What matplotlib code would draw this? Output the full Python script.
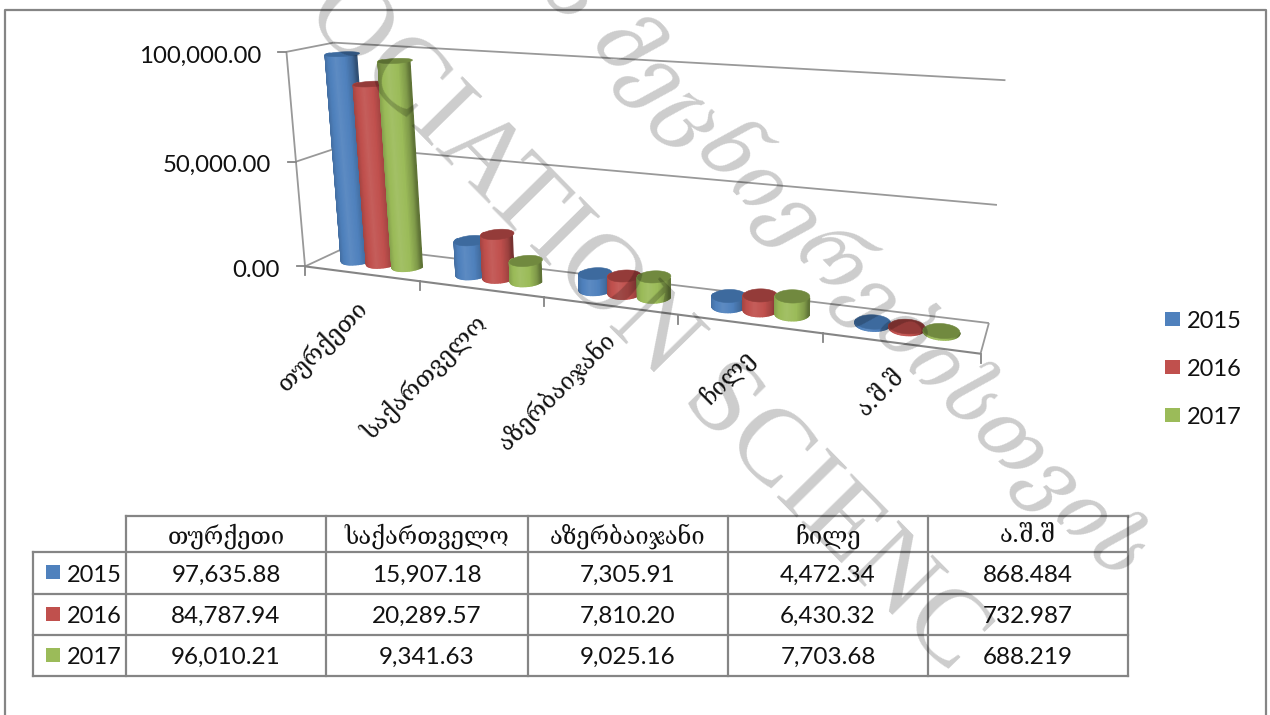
import numpy as np
import matplotlib
matplotlib.use("agg")
import matplotlib.pyplot as plt

plt.rcParams['font.family'] = ['Lato', 'DejaVu Sans']

# Data
countries = ["თურქეთი", "საქართველო", "აზერბაიჯანი", "ჩილე", "ა.შ.შ"]
years = ["2015", "2016", "2017"]
v2015 = [97635.88, 15907.18, 7305.91, 4472.34, 868.484]
v2016 = [84787.94, 20289.57, 7810.20, 6430.32, 732.987]
v2017 = [96010.21, 9341.63, 9025.16, 7703.68, 688.219]
v2015_txt = ["97,635.88", "15,907.18", "7,305.91", "4,472.34", "868.484"]
v2016_txt = ["84,787.94", "20,289.57", "7,810.20", "6,430.32", "732.987"]
v2017_txt = ["96,010.21", "9,341.63", "9,025.16", "7,703.68", "688.219"]
yticks = [0, 50000, 100000]
ytick_labels = ["0.00", "50,000.00", "100,000.00"]
colors = ["#4F81BD", "#C0504D", "#9BBB59"]
caps = ["#3D6A9E", "#943B39", "#71893F"]
series = [v2015, v2016, v2017]

ymax = 100000.0
grid_col = "#999999"
frame_col = "#858585"

fig = plt.figure(figsize=(12.7, 7.15), dpi=100)
ax = fig.add_axes([0, 0, 1, 1])
ax.set_xlim(0, 1270)
ax.set_ylim(715, 0)
ax.axis("off")

# Perspective of the 3d box, fitted on its corners: (category, depth, value/ymax) -> pixel
calib = [(0, 0, 0, 304, 266), (1, 0, 0, 420, 281), (2, 0, 0, 544, 297), (3, 0, 0, 678, 315),
         (4, 0, 0, 822, 333), (5, 0, 0, 981, 354), (0, 1, 0, 350, 246.5), (5, 1, 0, 988, 323),
         (0, 0, 1, 287, 53), (0, 1, 1, 333, 42), (5, 1, 1, 1005, 80), (0, 0, .5, 296, 161),
         (5, 1, .5, 998, 205)]
A = []
b = []
for X, D, Z, u, v in calib:
    A.append([X, D, Z, 1, 0, 0, 0, 0, -u*X, -u*D, -u*Z])
    b.append(u)
    A.append([0, 0, 0, 0, X, D, Z, 1, -v*X, -v*D, -v*Z])
    b.append(v)
P = np.append(np.linalg.lstsq(np.array(A, float), np.array(b, float), rcond=None)[0], 1).reshape(3, 4)

def proj(x, d, val):
    x, d, z = np.broadcast_arrays(np.asarray(x, float), np.asarray(d, float), np.asarray(val, float)/ymax)
    w = P[2, 0]*x + P[2, 1]*d + P[2, 2]*z + P[2, 3]
    return (P[0, 0]*x + P[0, 1]*d + P[0, 2]*z + P[0, 3])/w, (P[1, 0]*x + P[1, 1]*d + P[1, 2]*z + P[1, 3])/w

def line3d(a, b, **kw):
    u, v = proj([a[0], b[0]], [a[1], b[1]], [a[2], b[2]])
    ax.plot(u, v, solid_capstyle="butt", **kw)

def shade(col, f):
    rgb = np.array(matplotlib.colors.to_rgb(col))
    if f > 1:
        return tuple(rgb + (1-rgb)*(f-1))
    return tuple(rgb*f)

# Walls and floor
ncat = len(countries)
for val in yticks:
    line3d((0, 1, val), (ncat, 1, val), color=grid_col, lw=1.3, zorder=1)
    line3d((0, 0, val), (0, 1, val), color=grid_col, lw=1.3, zorder=1)
line3d((0, 0, 0), (ncat, 0, 0), color=frame_col, lw=1.5, zorder=1)
line3d((ncat, 0, 0), (ncat, 1, 0), color=grid_col, lw=1.3, zorder=1)
line3d((0, 0, 0), (0, 0, ymax), color=grid_col, lw=1.3, zorder=1)

# Value axis ticks and labels
for val, lab in zip(yticks, ytick_labels):
    u, v = proj(0, 0, val)
    ax.plot([u-8, u], [v, v], color=frame_col, lw=1.3, zorder=1)
    ax.text(u-25, v+4, lab, ha="right", va="center", fontsize=17.3, color="#111111")

# Category ticks and labels
for i in range(ncat+1):
    u, v = proj(i, 0, 0)
    ax.plot([u, u], [v, v+9], color=frame_col, lw=1.3, zorder=1)
for i, name in enumerate(countries):
    u, v = proj(i+.5, 0, 0)
    ax.text(u-7, v+21, name, rotation=45, rotation_mode="anchor", ha="right", va="top",
            fontsize=17, color="#111111", family="DejaVu Serif")

# Cylinders
step = 0.225
rx = 0.115
rd = 0.24
ang = np.linspace(0, 2*np.pi, 73)
zo = 2
for i in range(ncat):
    for s in range(3):
        cx = i + .5 + (s-1)*step
        cd = .5
        val = series[s][i]
        xs = cx + rx*np.cos(ang)
        ds = cd + rd*np.sin(ang)
        ub, vb = proj(xs, ds, 0*xs)
        ut, vt = proj(xs, ds, val + 0*xs)
        faces = []
        for k in range(len(ang)-1):
            qu = [ub[k], ub[k+1], ut[k+1], ut[k]]
            qv = [vb[k], vb[k+1], vt[k+1], vt[k]]
            # keep the side facing the camera
            if np.sin(ang[k]+np.pi/72) < 0.05:
                faces.append((np.mean(qu), qu, qv))
        lo = min(f[0] for f in faces)
        hi = max(f[0] for f in faces)
        for m, qu, qv in sorted(faces, key=lambda f: f[0]):
            t = (m-lo)/(hi-lo)
            f = np.interp(t, [0, .12, .35, .65, .88, 1], [.86, .98, 1.08, 1.0, .82, .62])
            c = shade(colors[s], f)
            ax.fill(qu, qv, facecolor=c, edgecolor=c, lw=1.0, zorder=zo)
        ax.fill(ut, vt, facecolor=caps[s], edgecolor=caps[s], lw=.4, zorder=zo+.1)
        zo += 1

# Legend
for n, (yr, c) in enumerate(zip(years, colors)):
    ax.add_patch(plt.Rectangle((1165, 312+48*n), 15, 14, facecolor=c, edgecolor="none"))
    ax.text(1187, 321+48*n, yr, ha="left", va="center", fontsize=17, color="#111111")

# Data table under the chart
col_x = [33, 126, 326, 528, 728, 928, 1128]
row_y = [516, 552, 594, 635, 676]
ax.plot([col_x[1], col_x[-1]], [row_y[0], row_y[0]], color=frame_col, lw=1.6, zorder=1)
for y in row_y[1:]:
    ax.plot([col_x[0], col_x[-1]], [y, y], color=frame_col, lw=1.6, zorder=1)
ax.plot([col_x[0], col_x[0]], [row_y[1], row_y[-1]], color=frame_col, lw=1.6, zorder=1)
for x in col_x[1:]:
    ax.plot([x, x], [row_y[0], row_y[-1]], color=frame_col, lw=1.6, zorder=1)
for c, name in enumerate(countries):
    ax.text((col_x[c+1]+col_x[c+2])/2, 536, name, ha="center", va="center", fontsize=17,
            color="#111111", family="DejaVu Serif")
rows_txt = [v2015_txt, v2016_txt, v2017_txt]
for r in range(3):
    yc = (row_y[r+1]+row_y[r+2])/2
    ax.add_patch(plt.Rectangle((46, yc-8), 14, 14, facecolor=colors[r], edgecolor="none"))
    ax.text(67, yc+2, years[r], ha="left", va="center", fontsize=17, color="#111111")
    for c in range(5):
        ax.text((col_x[c+1]+col_x[c+2])/2, yc+2, rows_txt[r][c], ha="center", va="center",
                fontsize=17.5, color="#111111")

# Outer frame, open at the bottom
ax.plot([5, 5, 1266, 1266], [715, 10, 10, 715], color=frame_col, lw=1.6, zorder=1)

# Watermark
ax.text(303, 15, "OCIATION SCIENC", rotation=-45.5, rotation_mode="anchor", ha="left", va="baseline",
        fontsize=78, family="Liberation Serif", color="black", alpha=.2, zorder=50, clip_on=True)
ax.text(1117, 583, "ა მეცნიერებისთვის", rotation=-45.5, rotation_mode="anchor", ha="right", va="baseline",
        fontsize=58, family="DejaVu Serif", style="italic", color="black", alpha=.2, zorder=50, clip_on=True)

fig.savefig("out.png", dpi=100)
